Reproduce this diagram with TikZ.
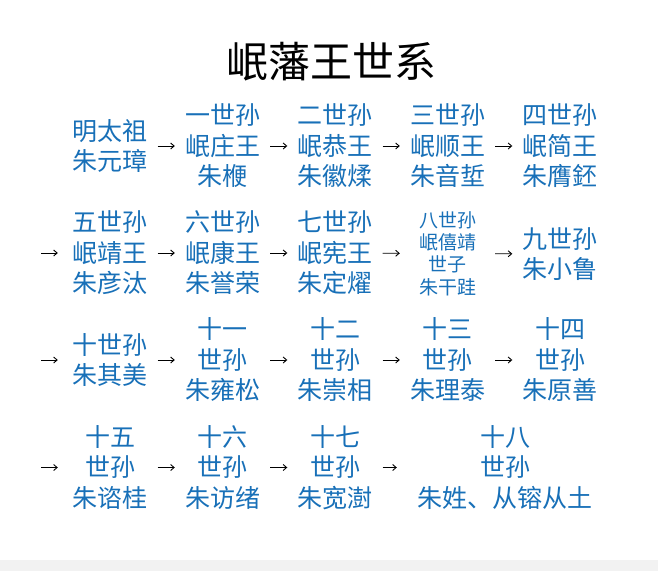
\documentclass[tikz,border=0pt]{standalone}
\usepackage{fontspec}
\setmainfont{Noto Sans CJK SC}
\usetikzlibrary{arrows.meta}
\definecolor{kinblue}{RGB}{24,112,184}
\definecolor{stripgray}{RGB}{242,242,242}

\begin{document}
\begin{tikzpicture}[x=1pt, y=-1pt,
      every node/.style={inner sep=0pt},
      gen/.style={text=kinblue, text width=76pt, align=center, font=\fontsize{25}{30.5}\selectfont},
      small/.style={gen, font=\fontsize{19}{22.3}\selectfont},
      wide/.style={gen, text width=176pt},
      arr/.style={line width=0.9pt, -{Straight Barb[length=3.5pt,width=6pt]}, shorten <=9.5pt, shorten >=9.5pt},
      lead/.style={arr, shorten <=0pt, shorten >=14pt}
  ]
    \fill[white] (0,0) rectangle (658,571);
    \fill[stripgray] (0,560) rectangle (658,571);
    \useasboundingbox (0,0) rectangle (658,571);

    \node[font=\fontsize{42}{48}\selectfont] (title) at (331,62) {岷藩王世系};

    % row 1
    \node[gen] (g0) at (110,146) {明太祖\\朱元璋};
    \node[gen] (g1) at (222.5,146) {一世孙\\岷庄王\\朱楩};
    \node[gen] (g2) at (335,146) {二世孙\\岷恭王\\朱徽煣};
    \node[gen] (g3) at (447.5,146) {三世孙\\岷顺王\\朱音埑};
    \node[gen] (g4) at (560,146) {四世孙\\岷简王\\朱膺鉟};
    % row 2
    \node[gen] (g5) at (110,253) {五世孙\\岷靖王\\朱彦汰};
    \node[gen] (g6) at (222.5,253) {六世孙\\岷康王\\朱誉荣};
    \node[gen] (g7) at (335,253) {七世孙\\岷宪王\\朱定燿};
    \node[small] (g8) at (447.5,253.5) {八世孙\\岷僖靖\\世子\\朱干跬};
    \node[gen] (g9) at (560,254) {九世孙\\朱小鲁};
    % row 3
    \node[gen] (g10) at (110,360) {十世孙\\朱其美};
    \node[gen] (g11) at (222.5,360) {十一\\世孙\\朱雍松};
    \node[gen] (g12) at (335,360) {十二\\世孙\\朱崇相};
    \node[gen] (g13) at (447.5,360) {十三\\世孙\\朱理泰};
    \node[gen] (g14) at (560,360) {十四\\世孙\\朱原善};
    % row 4
    \node[gen] (g15) at (110,467.5) {十五\\世孙\\朱谘桂};
    \node[gen] (g16) at (222.5,467.5) {十六\\世孙\\朱访绪};
    \node[gen] (g17) at (335,467.5) {十七\\世孙\\朱宽澍};
    \node[wide] (g18) at (505,467.5) {十八\\世孙\\朱姓、从镕从土};

    \coordinate (in2) at (41,253);
    \coordinate (in3) at (41,360);
    \coordinate (in4) at (41,467.5);

    \foreach \a/\b in {g0/g1,g1/g2,g2/g3,g3/g4,g5/g6,g6/g7,g7/g8,g8/g9,
                       g10/g11,g11/g12,g12/g13,g13/g14,g15/g16,g16/g17} {
      \draw[arr] (\a) -- (\b);
    }
    \draw[arr, shorten >=20pt] (g17) -- (g18);
    \foreach \c/\g in {in2/g5,in3/g10,in4/g15} {
      \draw[lead] (\c) -- (\g);
    }
\end{tikzpicture}
\end{document}
